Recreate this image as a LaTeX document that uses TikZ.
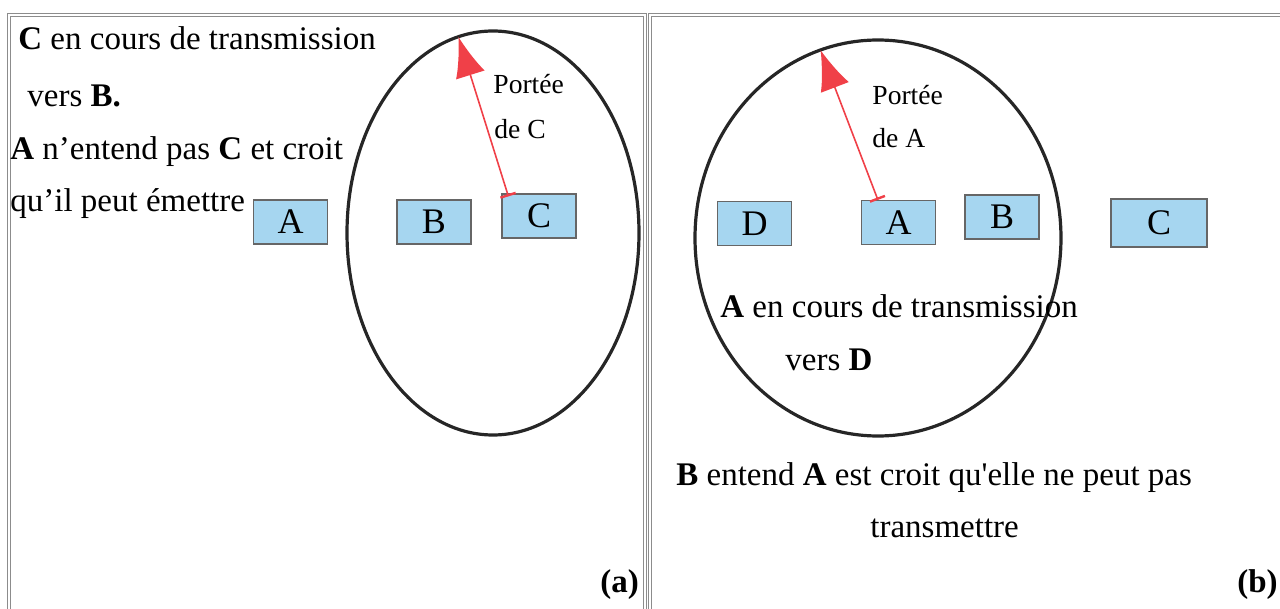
\documentclass[tikz,border=0pt]{standalone}
\usepackage{fontspec}
\setmainfont{Liberation Serif}
\usetikzlibrary{arrows.meta,shapes.geometric}
\definecolor{boxblue}{RGB}{166,214,240}
\definecolor{arrred}{RGB}{240,64,72}
\begin{document}
\begin{tikzpicture}[x=0.5pt,y=-0.5pt,
  txt/.style={font=\fontsize{16.5pt}{20pt}\selectfont, inner sep=0pt, anchor=base west},
  small/.style={font=\fontsize{13.8pt}{16pt}\selectfont, inner sep=0pt, anchor=base west},
  station/.style={draw=black!60, fill=boxblue, line width=0.6pt, minimum width=37pt, minimum height=22pt, inner sep=0pt, text depth=0pt, font=\fontsize{18pt}{20pt}\selectfont},
  zone/.style={ellipse, draw=black!85, line width=1.6pt, inner sep=0pt, outer sep=0pt},
  panel/.style={draw=black!45, line width=0.5pt, double=white, double distance=0.8pt},
  reach/.style={draw=arrred, line width=0.8pt, {Bar[width=8pt,line width=1.2pt]}-{Latex[length=20pt,width=15pt]}},
]
\useasboundingbox (0,0) rectangle (1280,609);
% panels
\draw[panel] (9,15) rectangle (645,650);
\draw[panel] (650,15) rectangle (1310,650);

% ---- panel (a)
\node[zone, minimum width=146pt, minimum height=202pt] (rC) at (493,233) {};
\node[station] (aA) at (290.5,222) {A};
\node[station] (aB) at (434,222) {B};
\node[station] (aC) at (539,216) {C};
\draw[reach] ([shift={(7,3)}]aC.north west) -- (rC.100);
\node[small] (pC1) at (493,94) {Portée};
\node[small] (pC2) at (494,139) {de C};
\node[txt] (ta1) at (18,50) {\textbf{C} en cours de transmission};
\node[txt] (ta2) at (27,107) {vers \textbf{B.}};
\node[txt] (ta3) at (10,160) {\textbf{A} n’entend pas \textbf{C} et croit};
\node[txt] (ta4) at (10,212) {qu’il peut émettre};
\node[txt] (la) at (600,592) {\textbf{(a)}};

% ---- panel (b)
\node[zone, minimum width=183pt, minimum height=198pt] (rA) at (878,238) {};
\node[station] (bD) at (754.5,223.5) {D};
\node[station] (bA) at (898.5,222.5) {A};
\node[station] (bB) at (1002,217) {B};
\node[station, minimum width=48pt, minimum height=24pt] (bC) at (1159,223) {C};
\draw[reach] ([shift={(17,0)}]bA.north west) -- (rA.107);
\node[small] (pA1) at (872,105) {Portée};
\node[small] (pA2) at (872,148) {de A};
\node[txt] (tb1) at (720,318) {\textbf{A} en cours de transmission};
\node[txt] (tb2) at (785,371) {vers \textbf{D}};
\node[txt] (tb3) at (676,485) {\textbf{B} entend \textbf{A} est croit qu\textquotesingle elle ne peut pas};
\node[txt] (tb4) at (870,537) {transmettre};
\node[txt] (lb) at (1237,592) {\textbf{(b)}};
\end{tikzpicture}
\end{document}
